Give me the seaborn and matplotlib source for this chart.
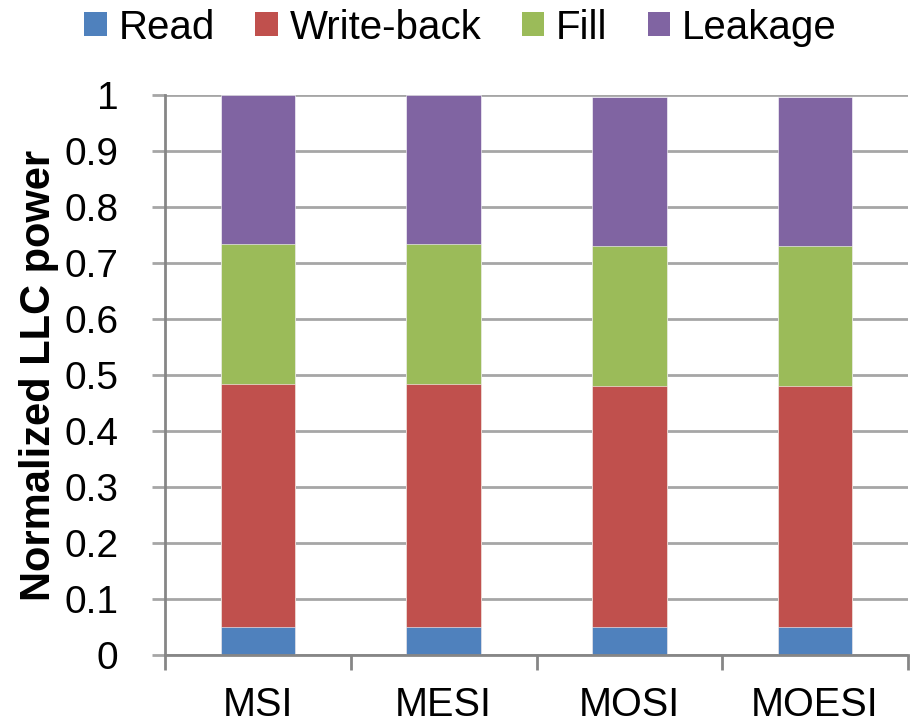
import matplotlib
matplotlib.use("Agg")
import matplotlib.pyplot as plt
from matplotlib.patches import Patch
from matplotlib.ticker import FixedLocator, NullFormatter, FixedFormatter
import seaborn as sns
import pandas as pd
import numpy as np

protocols = ["MSI", "MESI", "MOSI", "MOESI"]
read = [0.05, 0.05, 0.05, 0.05]
write_back = [0.434, 0.434, 0.430, 0.430]
fill = [0.25, 0.25, 0.25, 0.25]
leakage = [0.266, 0.266, 0.266, 0.266]
y_ticks = [0, 0.1, 0.2, 0.3, 0.4, 0.5, 0.6, 0.7, 0.8, 0.9, 1]
y_tick_labels = ["0", "0.1", "0.2", "0.3", "0.4", "0.5", "0.6", "0.7", "0.8", "0.9", "1"]

series_names = ["Read", "Write-back", "Fill", "Leakage"]
colors = ["#4F81BD", "#C0504D", "#9BBB59", "#8064A2"]

sns.set_theme(style="white")
plt.rcParams["font.family"] = ["Liberation Sans", "DejaVu Sans"]
plt.rcParams.update({"text.color": "black", "axes.labelcolor": "black",
                     "xtick.labelcolor": "black", "ytick.labelcolor": "black"})

df = pd.DataFrame({"protocol": protocols, "Read": read, "Write-back": write_back,
                   "Fill": fill, "Leakage": leakage})
cum = df[series_names].cumsum(axis=1)

fig = plt.figure(figsize=(9.12, 7.24), dpi=100)
ax = fig.add_axes([165 / 912, 69 / 724, 743 / 912, 560 / 724])

# stacked bars: draw cumulative totals from the top segment down
for name, color in reversed(list(zip(series_names, colors))):
    sns.barplot(x=df["protocol"], y=cum[name], color=color, width=0.40,
                saturation=1, edgecolor="white", linewidth=0.4, ax=ax, zorder=3)

grid_c = "#A6A6A6"
axis_c = "#868686"
ax.set_xlim(-0.5, 3.5)
ax.set_yticks(y_ticks, y_tick_labels)
ax.set_ylim(0, 1)
ax.yaxis.grid(True, color=grid_c, linewidth=2, zorder=0)
ax.set_axisbelow(True)

for s in ["top", "right"]:
    ax.spines[s].set_visible(False)
for s in ["left", "bottom"]:
    ax.spines[s].set_color(axis_c)
    ax.spines[s].set_linewidth(2)
    ax.spines[s].set_zorder(4)

# category boundaries get tick marks, category centres get the labels
ax.xaxis.set_major_locator(FixedLocator([-0.5, 0.5, 1.5, 2.5, 3.5]))
ax.xaxis.set_major_formatter(NullFormatter())
ax.xaxis.set_minor_locator(FixedLocator([0, 1, 2, 3]))
ax.xaxis.set_minor_formatter(FixedFormatter(protocols))
ax.tick_params(axis="x", which="major", direction="out", length=10.5, width=2,
               color=axis_c, bottom=True)
ax.tick_params(axis="x", which="minor", length=0, pad=22, labelsize=28.5, bottom=True)
ax.tick_params(axis="y", direction="out", length=9.5, width=2, color=grid_c,
               pad=24, labelsize=28, left=True)
ax.set_xlabel("")
ax.set_ylabel("Normalized LLC power", fontsize=30, fontweight="bold")
ax.yaxis.set_label_coords(-0.143, 0.5)

handles = [Patch(facecolor=c, edgecolor="none", label=n) for n, c in zip(series_names, colors)]
fig.legend(handles=handles, loc="center", bbox_to_anchor=(0.505, 0.962), ncol=4,
           frameon=False, fontsize=29, handlelength=0.55, handleheight=0.55,
           handletextpad=0.3, columnspacing=1.0, borderaxespad=0)

fig.savefig("out.png", dpi=100)
